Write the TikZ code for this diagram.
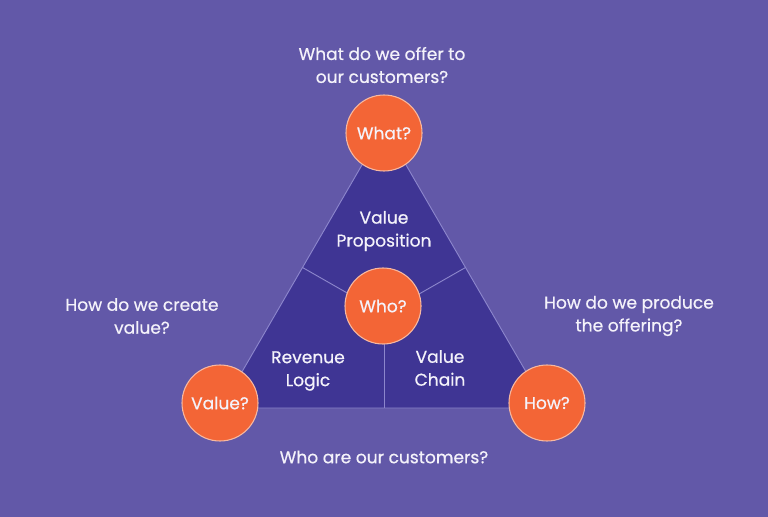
\documentclass[tikz,border=0pt]{standalone}
\usepackage{fontspec}
\setmainfont{Poppins}[FakeBold=0.6]
\usetikzlibrary{calc}
\definecolor{bgc}{HTML}{6258A8}
\definecolor{tric}{HTML}{3F3594}
\definecolor{linec}{HTML}{8C86CC}
\definecolor{circc}{HTML}{F36536}
\definecolor{circb}{HTML}{F7B8A0}
\definecolor{txtc}{HTML}{F4F2FA}
\tikzset{
  qcirc/.style={circle, fill=circc, draw=circb, line width=0.8pt, minimum size=57pt, inner sep=0pt, text=txtc, font=\fontsize{12.8}{14}\selectfont},
  lbl/.style={text=txtc, align=center, font=\fontsize{12.8}{17.2}\selectfont},
  divl/.style={draw=linec, line width=0.7pt}
}
\begin{document}
\begin{tikzpicture}[x=0.75pt,y=-0.75pt]
\fill[bgc] (0,0) rectangle (768,517);
\useasboundingbox (0,0) rectangle (768,517);
\coordinate (A) at (384,127);
\coordinate (B) at (221,408);
\coordinate (C) at (547,408);
\coordinate (G) at (384,314);
\coordinate (mAB) at ($(A)!0.5!(B)$);
\coordinate (mAC) at ($(A)!0.5!(C)$);
\coordinate (mBC) at ($(B)!0.5!(C)$);
\fill[tric, draw=linec, line width=0.7pt] (A) -- (B) -- (C) -- cycle;
\draw[divl] (G) -- (mAB);
\draw[divl] (G) -- (mAC);
\draw[divl] (G) -- (mBC);
\node[qcirc] (what) at (384,133) {What?};
\node[qcirc] (who) at (383,306) {Who?};
\node[qcirc] (value) at (220,403) {Value?};
\node[qcirc] (how) at (547,403) {How?};
\node[lbl] (t1) at (382,65) {What do we offer to\\our customers?};
\node[lbl] (t2) at (384,231) {Value\\Proposition};
\node[lbl] (t3) at (308,371) {Revenue\\Logic};
\node[lbl] (t4) at (440,368) {Value\\Chain};
\node[lbl] (t5) at (142,316) {How do we create\\value?};
\node[lbl] (t6) at (629,316) {How do we produce\\the offering?};
\node[lbl] (t7) at (384,457) {Who are our customers?};
\end{tikzpicture}
\end{document}
